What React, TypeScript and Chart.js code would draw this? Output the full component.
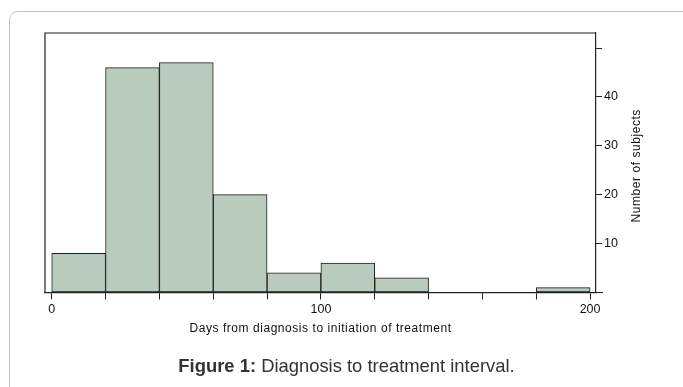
import React, { useEffect, useRef } from "react";
import { Chart, registerables } from "chart.js";

Chart.register(...registerables);

const binStarts = [0, 20, 40, 60, 80, 100, 120, 140, 160, 180];
const binWidth = 20;
const counts = [8, 46, 47, 20, 4, 6, 3, 0, 0, 1];
const xTickLabels = [0, 100, 200];
const yTickLabels = [10, 20, 30, 40];
const xTitle = "Days from diagnosis to initiation of treatment";
const yTitle = "Number of subjects";

const FONT = '"Liberation Sans", Arial, sans-serif';
const W = 683;
const H = 387;

export default function App() {
  const ref = useRef<HTMLCanvasElement | null>(null);

  useEffect(() => {
    if (!ref.current) return;
    const points = binStarts
      .map((s, i) => ({ x: s + binWidth / 2, y: counts[i] }))
      .filter((p) => p.y > 0);

    const framePlugin = {
      id: "frame",
      afterDraw(chart: any) {
        const { ctx, chartArea } = chart;
        const { left, top, right, bottom } = chartArea;
        ctx.save();
        ctx.strokeStyle = "#222";
        ctx.lineWidth = 1.2;
        ctx.beginPath();
        ctx.moveTo(left, bottom);
        ctx.lineTo(left, top);
        ctx.lineTo(right, top);
        ctx.stroke();
        ctx.beginPath();
        ctx.lineWidth = 1;
        ctx.moveTo(right, bottom);
        ctx.lineTo(right + 7, bottom);
        ctx.stroke();
        // axis titles
        ctx.fillStyle = "#111";
        ctx.font = `12px ${FONT}`;
        (ctx as any).letterSpacing = "0.55px";
        ctx.textAlign = "center";
        ctx.textBaseline = "middle";
        ctx.fillText(xTitle, (left + right) / 2, 329);
        ctx.translate(637, (top + bottom) / 2 + 3);
        ctx.rotate(-Math.PI / 2);
        ctx.fillText(yTitle, 0, 0);
        ctx.restore();
      },
    };

    const chart = new Chart(ref.current, {
      type: "bar",
      data: {
        datasets: [
          {
            data: points as any,
            backgroundColor: "#b9cbbc",
            borderColor: "#1e1e1e",
            borderWidth: 1,
            borderSkipped: false,
            barPercentage: 1,
            categoryPercentage: 1,
          } as any,
        ],
      },
      options: {
        responsive: false,
        animation: false,
        layout: { padding: { left: 45, top: 33, right: 0, bottom: 0 } },
        plugins: { legend: { display: false }, tooltip: { enabled: false } },
        scales: {
          x: {
            type: "linear",
            min: -2.5,
            max: 202.2,
            offset: false,
            ticks: {
              stepSize: 20,
              includeBounds: false,
              autoSkip: false,
              maxRotation: 0,
              padding: 3,
              color: "#111",
              font: { family: FONT, size: 12.5 },
              callback: (v: any) => (xTickLabels.includes(Number(v)) ? String(v) : ""),
            },
            grid: { drawOnChartArea: false, offset: false, tickLength: 7, color: "#222", lineWidth: 1 },
            border: { color: "#222", width: 1.2 },
            afterFit: (s: any) => {
              s.height = H - 292.5;
            },
          } as any,
          y: {
            position: "right",
            min: 0,
            max: 53.07,
            ticks: {
              stepSize: 10,
              includeBounds: false,
              padding: 2,
              color: "#111",
              font: { family: FONT, size: 12.5 },
              callback: (v: any) => (yTickLabels.includes(Number(v)) ? String(v) : ""),
            },
            grid: { drawOnChartArea: false, tickLength: 6, color: "#222", lineWidth: 1 },
            border: { color: "#222", width: 1.2 },
            afterFit: (s: any) => {
              s.width = W - 596;
            },
          } as any,
        },
      },
      plugins: [framePlugin],
    });
    return () => chart.destroy();
  }, []);

  return (
    <div
      style={{
        position: "absolute",
        left: 0,
        top: 0,
        width: W,
        height: H,
        overflow: "hidden",
        background: "#fff",
      }}
    >
      <div
        style={{
          position: "absolute",
          left: 9,
          top: 11,
          width: 720,
          height: 420,
          border: "1px solid #c4c4c4",
          borderRadius: 9,
          boxSizing: "border-box",
        }}
      />
      <canvas
        ref={ref}
        width={W}
        height={H}
        style={{ position: "absolute", left: 0, top: 0, width: W, height: H }}
      />
      <div
        style={{
          position: "absolute",
          left: 0,
          width: 693,
          top: 355,
          textAlign: "center",
          fontFamily: FONT,
          fontSize: 18.4,
          color: "#333",
          lineHeight: "22px",
        }}
      >
        <b>Figure 1:</b> Diagnosis to treatment interval.
      </div>
    </div>
  );
}
